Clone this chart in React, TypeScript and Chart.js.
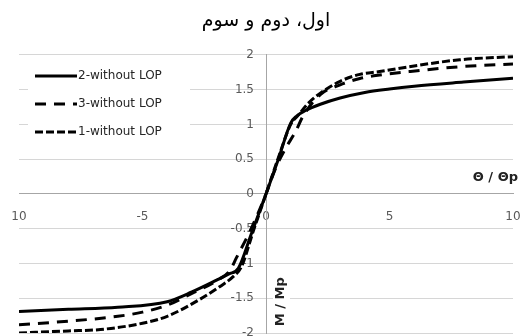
import React, { useEffect, useRef } from "react";
import { Chart, registerables } from "chart.js";

Chart.register(...registerables);

const chartTitle = "اول، دوم و سوم";
const xAxisTitle = "Θ / Θp";
const yAxisTitle = "M / Mp";

const xTickValues = [-10, -5, 0, 5, 10];
const xTickLabels = ["10", "-5", "0", "5", "10"];
const yTickValues = [-2, -1.5, -1, -0.5, 0, 0.5, 1, 1.5, 2];
const yTickLabels = ["-2", "-1.5", "-1", "-0.5", "0", "0.5", "1", "1.5", "2"];

const series2Label = "2-without LOP";
const series2X = [-10, -8, -6, -4, -3, -2, -1.5, -1.12, -0.6, 0, 0.5, 1.0, 1.24, 1.6, 2.2, 3, 4, 5, 6, 8, 10];
const series2Y = [-1.69, -1.66, -1.63, -1.55, -1.41, -1.24, -1.15, -1.07, -0.58, 0, 0.5, 1.02, 1.12, 1.2, 1.29, 1.38, 1.46, 1.51, 1.55, 1.61, 1.665];

const series3Label = "3-without LOP";
const series3X = [-10, -8, -6, -5, -4, -3, -2, -1.46, -1.2, -0.6, 0, 0.4, 0.8, 1.2, 1.5, 2.2, 3, 3.8, 4.6, 5.8, 7.85, 10];
const series3Y = [-1.88, -1.83, -1.76, -1.7, -1.6, -1.43, -1.25, -1.1, -0.92, -0.5, 0, 0.38, 0.66, 0.9, 1.12, 1.43, 1.57, 1.66, 1.71, 1.76, 1.83, 1.87];

const series1Label = "1-without LOP";
const series1X = [-10, -8, -6.7, -5, -4, -2.7, -1.86, -1.33, -1.0, -0.5, 0, 0.5, 1.0, 1.3, 1.7, 2.2, 3, 3.8, 4.6, 5.8, 7.85, 10];
const series1Y = [-2.0, -1.97, -1.95, -1.86, -1.76, -1.52, -1.33, -1.19, -1.05, -0.52, 0, 0.52, 1.0, 1.13, 1.3, 1.45, 1.62, 1.72, 1.76, 1.83, 1.93, 1.975];

const toPoints = (xs: number[], ys: number[]) => xs.map((x, i) => ({ x, y: ys[i] }));

const FONT = "DejaVu Sans";

// y tick labels of a centred axis sit against the axis line; move them left by a gap
const yLabelGapPlugin = {
  id: "yLabelGap",
  beforeDraw(chart: any) {
    const s = chart.scales.y;
    const items = s.getLabelItems();
    if (!items._shifted) {
      items.forEach((it: any) => {
        it.options.translation[0] -= 12;
      });
      items._shifted = true;
    }
  },
};

const overlayPlugin = {
  id: "overlay",
  afterDraw(chart: any) {
    const ctx = chart.ctx as CanvasRenderingContext2D;
    const xs = chart.scales.x;
    const ys = chart.scales.y;
    const area = chart.chartArea;
    ctx.save();

    // legend
    ctx.fillStyle = "#ffffff";
    ctx.fillRect(area.left + 9, 60, 162, 88);
    const rows = [76, 104, 132];
    chart.data.datasets.forEach((ds: any, i: number) => {
      const y = rows[i];
      ctx.beginPath();
      ctx.setLineDash(ds.borderDash || []);
      ctx.lineWidth = 3;
      ctx.strokeStyle = "#000";
      ctx.moveTo(area.left + 16, y);
      ctx.lineTo(area.left + 58, y);
      ctx.stroke();
      ctx.setLineDash([]);
      ctx.fillStyle = "#262626";
      ctx.font = `12px "${FONT}"`;
      ctx.textAlign = "left";
      ctx.textBaseline = "middle";
      ctx.fillText(ds.label, area.left + 59, y);
    });

    // x axis title
    ctx.fillStyle = "#222222";
    ctx.font = `bold 13px "${FONT}"`;
    ctx.textAlign = "right";
    ctx.textBaseline = "middle";
    ctx.fillText(xAxisTitle, area.right + 5, ys.getPixelForValue(0) - 16);

    // y axis title (rotated)
    const cx = xs.getPixelForValue(0) + 15;
    const cy = ys.getPixelForValue(-1.55);
    ctx.fillStyle = "#ffffff";
    ctx.fillRect(cx - 8, cy - 28, 17, 56);
    ctx.translate(cx, cy);
    ctx.rotate(-Math.PI / 2);
    ctx.fillStyle = "#222222";
    ctx.textAlign = "center";
    ctx.fillText(yAxisTitle, 0, 0);
    ctx.restore();
  },
};

export default function App() {
  const ref = useRef<HTMLCanvasElement | null>(null);

  useEffect(() => {
    document.body.style.margin = "0";
    const canvas = ref.current;
    if (!canvas) return;
    const common = {
      showLine: true,
      borderColor: "#000000",
      backgroundColor: "#000000",
      borderWidth: 3,
      pointRadius: 0,
      fill: false,
      cubicInterpolationMode: "monotone" as const,
    };
    const chart = new Chart(canvas, {
      type: "scatter",
      data: {
        datasets: [
          { ...common, label: series2Label, data: toPoints(series2X, series2Y) },
          { ...common, label: series3Label, data: toPoints(series3X, series3Y), borderDash: [11, 8] },
          { ...common, label: series1Label, data: toPoints(series1X, series1Y), borderDash: [8, 3] },
        ],
      },
      options: {
        responsive: false,
        animation: false,
        devicePixelRatio: 1,
        layout: { padding: { left: 19, right: 14, top: 0, bottom: 13 } },
        plugins: {
          legend: { display: false },
          tooltip: { enabled: false },
          title: {
            display: true,
            text: chartTitle,
            color: "#000000",
            font: { family: FONT, size: 19, weight: "normal", lineHeight: 1.1 },
            padding: { top: 11, bottom: 23 },
          },
        },
        scales: {
          x: {
            type: "linear",
            min: -10,
            max: 10,
            position: { y: 0 } as any,
            afterBuildTicks: (s: any) => {
              s.ticks = xTickValues.map((v) => ({ value: v }));
            },
            grid: { display: true, drawOnChartArea: false, drawTicks: true, tickLength: 16, color: "rgba(0,0,0,0)", tickColor: "rgba(0,0,0,0)" },
            border: { display: true, color: "#a6a6a6", width: 1 },
            ticks: {
              autoSkip: false,
              maxRotation: 0,
              padding: 0,
              color: "#595959",
              font: { family: FONT, size: 12 },
              callback: (v: any) => {
                const i = xTickValues.indexOf(Number(v));
                return i >= 0 ? xTickLabels[i] : "";
              },
            },
          },
          y: {
            type: "linear",
            min: -2,
            max: 2,
            position: { x: 0 } as any,
            afterBuildTicks: (s: any) => {
              s.ticks = yTickValues.map((v) => ({ value: v }));
            },
            grid: { color: "#d6d6d6", drawTicks: false },
            border: { display: true, color: "#a6a6a6", width: 1 },
            ticks: {
              autoSkip: false,
              padding: 0,
              color: "#595959",
              font: { family: FONT, size: 12 },
              callback: (v: any) => {
                const i = yTickValues.indexOf(Number(v));
                return i >= 0 ? yTickLabels[i] : "";
              },
            },
          },
        },
      },
      plugins: [yLabelGapPlugin, overlayPlugin],
    });
    return () => chart.destroy();
  }, []);

  return (
    <div style={{ width: 527, height: 336, overflow: "hidden", background: "#fff" }}>
      <canvas ref={ref} width={527} height={346} style={{ display: "block" }} />
    </div>
  );
}
